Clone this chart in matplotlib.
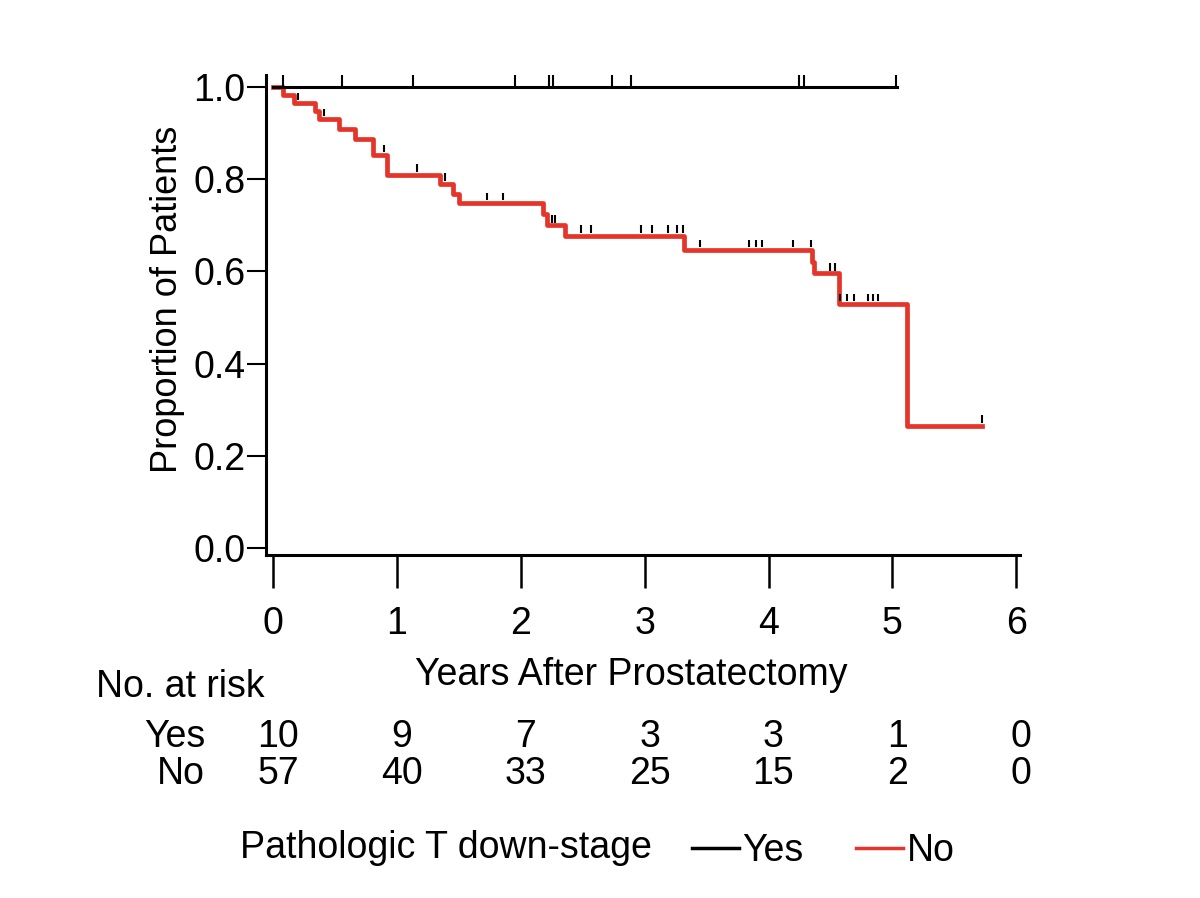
import numpy as np
import matplotlib.pyplot as plt
from matplotlib.lines import Line2D

plt.rcParams['font.family'] = ['Liberation Sans Narrow', 'Liberation Sans', 'DejaVu Sans']

# Kaplan-Meier data
# "Yes" group: no events, only censoring
yes_end = 5.04
yes_censor = [0.08, 0.56, 1.13, 1.95, 2.23, 2.26, 2.74, 2.89, 4.25, 4.29, 5.03]

# "No" group: step times and survival after each step
no_times = [0.0, 0.08, 0.17, 0.34, 0.37, 0.53, 0.66, 0.81, 0.92, 1.35, 1.45, 1.50,
            2.18, 2.21, 2.36, 3.32, 4.35, 4.37, 4.57, 5.12]
no_surv = [1.0, 0.982, 0.965, 0.947, 0.93, 0.908, 0.887, 0.852, 0.809, 0.79, 0.767, 0.748,
           0.725, 0.70, 0.677, 0.646, 0.62, 0.596, 0.529, 0.265]
no_end = 5.72
no_censor = [0.20, 0.41, 0.90, 1.16, 1.39, 1.73, 1.86, 2.25, 2.28, 2.49, 2.57, 2.97, 3.06,
             3.19, 3.26, 3.31, 3.45, 3.84, 3.90, 3.95, 4.20, 4.34, 4.50, 4.54, 4.58,
             4.63, 4.69, 4.80, 4.84, 4.88, 5.72]

# numbers at risk
risk_years = [0, 1, 2, 3, 4, 5, 6]
risk_yes = [10, 9, 7, 3, 3, 1, 0]
risk_no = [57, 40, 33, 25, 15, 2, 0]

red = '#e5352b'

fig = plt.figure(figsize=(12, 8.98), dpi=100)
ax = fig.add_axes([266 / 1200, 1 - 555 / 898, 754 / 1200, 480 / 898])

# Yes curve
ax.plot([0, yes_end], [1.0, 1.0], color='black', lw=2.2, zorder=3)
ax.vlines(yes_censor, 1.0, 1.025, color='black', lw=1.5, zorder=3)

# No curve
xs = no_times + [no_end]
ys = no_surv + [no_surv[-1]]
ax.step(xs, ys, where='post', color=red, lw=3.4, zorder=2)
idx = np.searchsorted(no_times, no_censor, side='right') - 1
cs = np.array(no_surv)[idx]
ax.vlines(no_censor, cs + 0.006, cs + 0.023, color='black', lw=1.5, zorder=3)

ax.set_xlim(-0.056, 6.03)
ax.set_ylim(-0.015, 1.026)
ax.spines['top'].set_visible(False)
ax.spines['right'].set_visible(False)
ax.spines['left'].set_linewidth(2.2)
ax.spines['bottom'].set_linewidth(2.2)

ax.set_xticks(risk_years)
ax.set_yticks([0.0, 0.2, 0.4, 0.6, 0.8, 1.0])
ax.set_yticklabels(['0.0', '0.2', '0.4', '0.6', '0.8', '1.0'])
ax.tick_params(axis='x', direction='out', length=24, width=1.8, labelsize=27, pad=13)
ax.tick_params(axis='y', direction='out', length=14, width=1.5, labelsize=27, pad=1)

ax.set_xlabel('Years After Prostatectomy', fontsize=27)
ax.xaxis.set_label_coords(0.484, -0.212)
ax.set_ylabel('Proportion of Patients', fontsize=26)
ax.yaxis.set_label_coords(-0.107, 0.533)

# at-risk table
tr = ax.get_xaxis_transform()
fig.text(96 / 1200, 1 - 687 / 898, 'No. at risk', fontsize=27, va='center')
fig.text(205 / 1200, 1 - 737 / 898, 'Yes', fontsize=27, va='center', ha='right')
fig.text(205 / 1200, 1 - 774 / 898, 'No', fontsize=27, va='center', ha='right')
for yr, a, b in zip(risk_years, risk_yes, risk_no):
    ax.text(yr + 0.04, -0.379, str(a), transform=tr, fontsize=27, ha='center', va='center')
    ax.text(yr + 0.04, -0.456, str(b), transform=tr, fontsize=27, ha='center', va='center')

# legend
fig.text(240 / 1200, 1 - 848 / 898, 'Pathologic T down-stage', fontsize=27, va='center')
handles = [Line2D([], [], color='black', lw=2.5), Line2D([], [], color=red, lw=2.5)]
fig.legend(handles, ['Yes', 'No'], loc='center left', bbox_to_anchor=(677 / 1200, 1 - 851 / 898),
           ncol=2, frameon=False, fontsize=27, handlelength=1.25, handletextpad=0.1,
           columnspacing=1.4, borderaxespad=0)

fig.savefig('out.png', dpi=100)
